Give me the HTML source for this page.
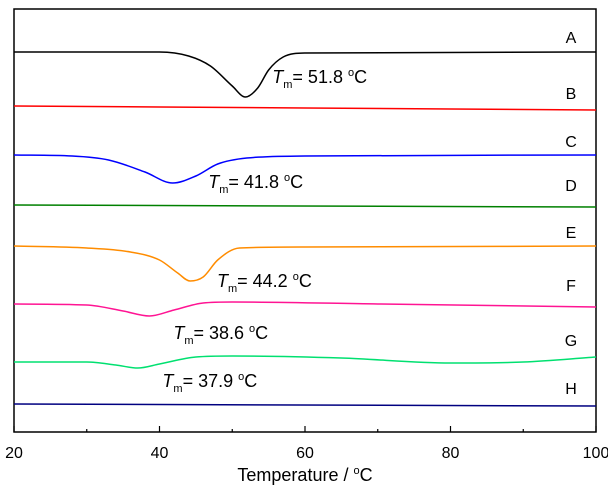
<!DOCTYPE html>
<html><head><meta charset="utf-8"><style>
html,body{margin:0;padding:0;background:#fff;}
svg{display:block;font-family:"Liberation Sans",Arial,sans-serif;}
</style></head><body>
<svg id="chart" width="608" height="488" viewBox="0 0 608 488" xmlns="http://www.w3.org/2000/svg">
<rect x="14" y="9" width="582" height="423" fill="none" stroke="#000" stroke-width="1.5"/>
<g id="axis"></g>
<g id="series"></g>
<g id="labels"></g>
<text x="305" y="481" font-size="18" text-anchor="middle">Temperature / <tspan font-size="11" dy="-7">o</tspan><tspan dy="7">C</tspan></text>
</svg>
<script>
const xTicks = [20, 40, 60, 80, 100];
const xMinorTicks = [30, 50, 70, 90];
const seriesNames = ["A","B","C","D","E","F","G","H"];
const seriesColors = ["#000000","#ff0000","#0000ff","#008000","#ff8c00","#ff1493","#00e070","#000080"];
const tempA = [20,40,44,47,50,51.8,53.5,55,57,60,100];
const valA = [380,380,376,366,346,335,344,362,375,379,380];
const tempB = [20,60,100];
const valB = [326,324,322];
const tempC = [20,28,33,38,41.8,45,48,52,60,100];
const valC = [277,276,272,260,249,256,268,274,276,277];
const tempD = [20,100];
const valD = [227,225];
const tempE = [20,30,36,40,42.5,44.2,46,48,51,60,100];
const valE = [186,184,180,172,159,151,155,172,184,185,186];
const tempF = [20,30,35,38.6,42,46,50,70,100];
const valF = [128,127,121,116,122,129,130,128,125];
const tempG = [20,30,34,37,40,45,50,65,80,90,100];
const valG = [70,70,67,64,68,75,76,74,69,70,75];
const tempH = [20,100];
const valH = [28,26];
const labelValues = [395,339,291,247,200,147,92,44];
const tmTexts = ["51.8","41.8","44.2","38.6","37.9"];
const tmLabelTemp = [55.5,46.7,47.9,41.9,40.4];
const tmLabelVal = [349,244,145,93,45];

const NS = "http://www.w3.org/2000/svg";
const X0 = 14, X1 = 596, YB = 432;
function xs(t){ return X0 + (t - 20) / 80 * (X1 - X0); }
function ys(v){ return YB - v; }

const axis = document.getElementById('axis');
xTicks.forEach(t => {
  const l = document.createElementNS(NS,'line');
  
  
  l.setAttribute('x1',xs(t)); l.setAttribute('x2',xs(t));
  l.setAttribute('y1',YB); l.setAttribute('y2',YB-6);
  l.setAttribute('stroke','#000'); l.setAttribute('stroke-width','1.2');
  axis.appendChild(l);
  const tx = document.createElementNS(NS,'text');
  
  
  tx.setAttribute('x',xs(t)); tx.setAttribute('y',458);
  tx.setAttribute('font-size','16'); tx.setAttribute('text-anchor','middle');
  tx.textContent = t;
  axis.appendChild(tx);
});
xMinorTicks.forEach(t => {
  const l = document.createElementNS(NS,'line');
  
  
  l.setAttribute('x1',xs(t)); l.setAttribute('x2',xs(t));
  l.setAttribute('y1',YB); l.setAttribute('y2',YB-3);
  l.setAttribute('stroke','#000'); l.setAttribute('stroke-width','1.2');
  axis.appendChild(l);
});

const temps = [tempA,tempB,tempC,tempD,tempE,tempF,tempG,tempH];
const vals = [valA,valB,valC,valD,valE,valF,valG,valH];
function monotonePath(xv, yv){
  const n = xv.length;
  if(n < 3){ return 'M' + xs(xv[0]) + ',' + ys(yv[0]) + ' L' + xs(xv[n-1]) + ',' + ys(yv[n-1]); }
  const d = [], m = [];
  for(let i=0;i<n-1;i++) d.push((yv[i+1]-yv[i])/(xv[i+1]-xv[i]));
  m.push(d[0]);
  for(let i=1;i<n-1;i++) m.push(d[i-1]*d[i] <= 0 ? 0 : (d[i-1]+d[i])/2);
  m.push(d[n-2]);
  for(let i=0;i<n-1;i++){
    if(d[i] === 0){ m[i]=0; m[i+1]=0; continue; }
    const a = m[i]/d[i], b = m[i+1]/d[i], s = a*a+b*b;
    if(s > 9){ const t = 3/Math.sqrt(s); m[i]=t*a*d[i]; m[i+1]=t*b*d[i]; }
  }
  let path = 'M' + xs(xv[0]) + ',' + ys(yv[0]);
  for(let i=0;i<n-1;i++){
    const h = xv[i+1]-xv[i];
    const c1x = xv[i]+h/3, c1y = yv[i]+m[i]*h/3;
    const c2x = xv[i+1]-h/3, c2y = yv[i+1]-m[i+1]*h/3;
    path += ' C' + xs(c1x) + ',' + ys(c1y) + ' ' + xs(c2x) + ',' + ys(c2y) + ' ' + xs(xv[i+1]) + ',' + ys(yv[i+1]);
  }
  return path;
}
const sg = document.getElementById('series');
const lg = document.getElementById('labels');
temps.forEach((tt,i) => {
  const p = document.createElementNS(NS,'path');
  
  
  p.setAttribute('d', monotonePath(tt, vals[i]));
  p.setAttribute('fill','none'); p.setAttribute('stroke',seriesColors[i]); p.setAttribute('stroke-width','1.5');
  sg.appendChild(p);
  const tx = document.createElementNS(NS,'text');
  
  
  tx.setAttribute('x',571); tx.setAttribute('y',ys(labelValues[i]) + 6);
  tx.setAttribute('font-size','16'); tx.setAttribute('text-anchor','middle');
  tx.textContent = seriesNames[i];
  lg.appendChild(tx);
});
tmTexts.forEach((s,i) => {
  const tx = document.createElementNS(NS,'text');
  
  
  tx.setAttribute('x',xs(tmLabelTemp[i])); tx.setAttribute('y',ys(tmLabelVal[i]));
  tx.setAttribute('font-size','18');
  tx.innerHTML = '<tspan font-style="italic">T</tspan><tspan font-size="11" dy="5">m</tspan><tspan dy="-5">= ' + s + ' </tspan><tspan font-size="11" dy="-7">o</tspan><tspan dy="7">C</tspan>';
  lg.appendChild(tx);
});
</script>
</body></html>
